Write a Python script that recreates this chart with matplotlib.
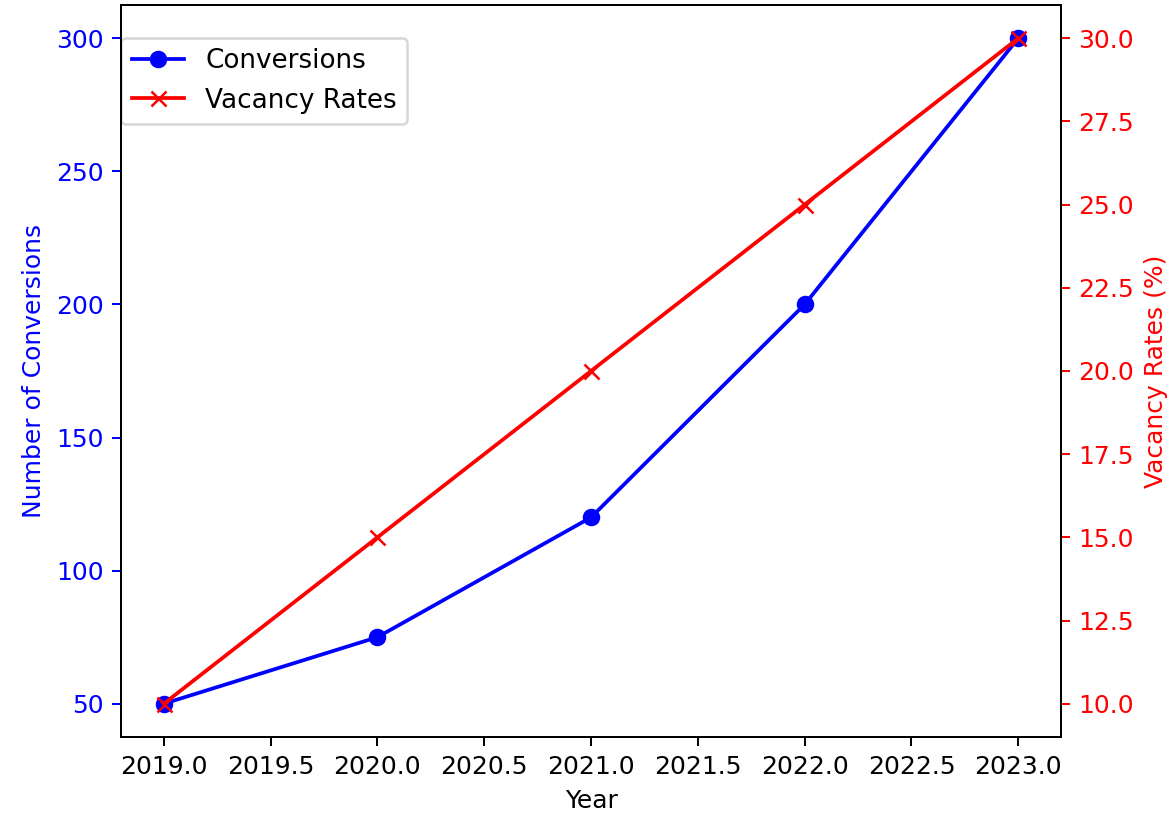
import matplotlib
matplotlib.use("Agg")
import matplotlib.pyplot as plt

years = [2019, 2020, 2021, 2022, 2023]
conversions = [50, 75, 120, 200, 300]
vacancy_rates = [10, 15, 20, 25, 30]

dpi = 180
fig = plt.figure(figsize=(1173 / dpi, 815 / dpi), dpi=dpi)
ax1 = fig.add_axes([0.1032, 0.0957, 0.8013, 0.8982])

l1, = ax1.plot(years, conversions, color="blue", marker="o", label="Conversions")
ax1.set_xlabel("Year")
ax1.set_ylabel("Number of Conversions", color="blue")
ax1.tick_params(axis="y", colors="blue")

ax2 = ax1.twinx()
l2, = ax2.plot(years, vacancy_rates, color="red", marker="x", label="Vacancy Rates")
ax2.set_ylabel("Vacancy Rates (%)", color="red")
ax2.tick_params(axis="y", colors="red")

ax1.legend(handles=[l1, l2], loc="upper left", bbox_to_anchor=(0, 0.955),
           borderaxespad=0, fontsize=10.5)

fig.savefig("out.png", dpi=dpi)
